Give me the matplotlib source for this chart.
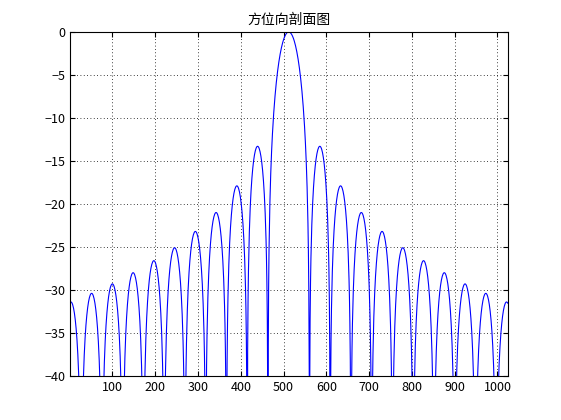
import numpy as np
import matplotlib
matplotlib.use("Agg")
import matplotlib.pyplot as plt

plt.rcParams['font.family'] = ['Noto Sans CJK SC', 'DejaVu Sans']

# lobe peak levels (dB), main lobe then sidelobes outward
LEFT_PEAKS = [0.0, -13.3, -17.9, -21.0, -23.2, -25.1, -26.6, -28.0, -29.3, -30.4, -31.4]
RIGHT_PEAKS = [0.0, -13.3, -17.9, -21.0, -23.2, -25.1, -26.6, -28.0, -29.3, -30.4, -31.4]
CENTER = 512.0      # main lobe peak position (sample)
NULL_STEP = 48.5    # spacing between nulls (samples)
N = 1024

n = np.arange(1, N + 1)
amp = np.zeros(N)
d = n - CENTER
k = np.floor(np.abs(d) / NULL_STEP).astype(int)
for i in range(N):
    peaks = RIGHT_PEAKS if d[i] >= 0 else LEFT_PEAKS
    if k[i] == 0:
        lvl = 1.0
        shape = np.abs(np.sinc(d[i] / NULL_STEP))
    else:
        lvl = 10 ** (peaks[min(k[i], len(peaks) - 1)] / 20)
        shape = np.abs(np.sin(np.pi * np.abs(d[i]) / NULL_STEP))
    amp[i] = lvl * shape
db = 20 * np.log10(np.maximum(amp, 1e-6))

fig = plt.figure(figsize=(5.61, 4.2), dpi=100)
ax = fig.add_axes([0.125, 0.105, 0.78, 0.819])
ax.plot(n, db, color='#0000ff', linewidth=0.8)
ax.set_xlim(1, N)
ax.set_ylim(-40, 0)
ax.set_xticks(range(100, 1001, 100))
ax.set_yticks(range(-40, 1, 5))
ax.grid(True, linestyle=(0, (1, 3)), color='black', linewidth=0.6)
ax.tick_params(direction='in', labelsize=9, top=True, right=True)
ax.set_title('方位向剖面图', fontsize=10)
fig.savefig('out.png', dpi=100)
